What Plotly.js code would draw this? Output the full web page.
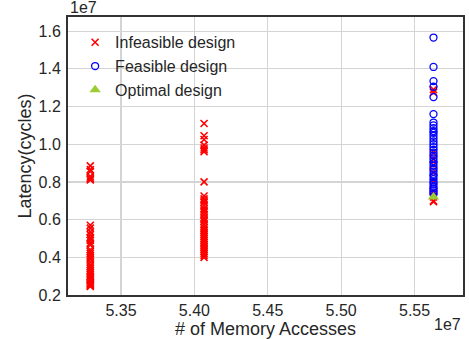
<!DOCTYPE html>
<html>
<head>
<meta charset="utf-8">
<script src="https://cdn.plot.ly/plotly-3.0.1.min.js"></script>
<style>html,body{margin:0;padding:0;background:#fff;}#chart{width:469px;height:339px;}</style>
</head>
<body>
<div id="chart"></div>
<script>
// values in units of 1e7
const xCols = [5.3291, 5.4066, 5.5629];

const infeasibleCol1 = [0.885, 0.865, 0.855, 0.83, 0.82, 0.815, 0.81,
  0.57, 0.555, 0.535, 0.52, 0.505, 0.50, 0.49, 0.475, 0.465, 0.44, 0.43, 0.42, 0.41, 0.40,
  0.39, 0.375, 0.36, 0.35, 0.34, 0.33, 0.32, 0.31, 0.30, 0.295, 0.285, 0.28, 0.27,
  0.265, 0.26, 0.255, 0.25, 0.245];
const infeasibleCol2 = [1.11, 1.045, 1.025, 0.995, 0.98, 0.97, 0.96, 0.80,
  0.725, 0.71, 0.70, 0.69, 0.675, 0.66, 0.65, 0.64, 0.625, 0.61, 0.60, 0.59, 0.575,
  0.56, 0.55, 0.54, 0.53, 0.52, 0.51, 0.50, 0.49, 0.48, 0.47, 0.46, 0.45, 0.44,
  0.43, 0.42, 0.41, 0.40];
const infeasibleCol3 = [1.29, 1.275, 0.955, 0.92, 0.89, 0.85, 0.80, 0.75, 0.72, 0.70, 0.695];

const feasibleCol3 = [1.566, 1.41, 1.335, 1.305, 1.25, 1.16, 1.115, 1.10, 1.085, 1.07,
  1.06, 1.045, 1.03, 1.015, 1.0, 0.985, 0.97, 0.955, 0.94, 0.925, 0.91, 0.90, 0.885,
  0.87, 0.855, 0.84, 0.83, 0.815, 0.80, 0.79, 0.775, 0.765, 0.755, 0.745, 0.735];

const optimalCol3 = [0.72];

const xTicks = [5.35, 5.40, 5.45, 5.50, 5.55];
const yTicks = [0.2, 0.4, 0.6, 0.8, 1.0, 1.2, 1.4, 1.6];

const infX = [], infY = [];
[infeasibleCol1, infeasibleCol2, infeasibleCol3].forEach((col, i) => {
  col.forEach(v => { infX.push(xCols[i]); infY.push(v); });
});
const feaX = feasibleCol3.map(() => xCols[2]);
const optX = optimalCol3.map(() => xCols[2]);

const font = "'Liberation Sans', Arial, sans-serif";
const textColor = '#262626';

const traces = [
  {x: infX, y: infY, name: 'Infeasible design', type: 'scatter', mode: 'markers',
   marker: {symbol: 'x-thin-open', size: 7, color: 'red', line: {color: 'red', width: 1.6}}},
  {x: feaX, y: feasibleCol3, name: 'Feasible design', type: 'scatter', mode: 'markers',
   marker: {symbol: 'circle-open', size: 7, color: 'blue', line: {color: 'blue', width: 1.3}}},
  {x: optX, y: optimalCol3, name: 'Optimal design', type: 'scatter', mode: 'markers',
   marker: {symbol: 'triangle-up', size: 10, color: '#9acd32'}}
];

const layout = {
  width: 469, height: 339,
  margin: {l: 68, r: 6, t: 17, b: 44, pad: 0},
  paper_bgcolor: '#fff', plot_bgcolor: '#fff',
  font: {family: font, size: 16, color: textColor},
  showlegend: true,
  legend: {x: 0.018, y: 0.97, xanchor: 'left', yanchor: 'top', bgcolor: 'rgba(0,0,0,0)',
           font: {family: font, size: 16, color: textColor}, itemwidth: 30, tracegroupgap: 0},
  xaxis: {range: [5.3139, 5.583], tickvals: xTicks, tickformat: '.2f',
          showgrid: true, gridcolor: '#d4d4d4', gridwidth: 1.2, zeroline: false,
          showline: true, mirror: true, linecolor: '#333', linewidth: 2,
          ticks: '', ticklabelstandoff: 0,
          title: {text: '# of Memory Accesses', font: {family: font, size: 18, color: textColor}, standoff: 4}},
  yaxis: {range: [0.2, 1.675], tickvals: yTicks, tickformat: '.1f',
          showgrid: true, gridcolor: '#d4d4d4', gridwidth: 1.2, zeroline: false,
          showline: true, mirror: true, linecolor: '#333', linewidth: 2,
          ticks: '', ticklabelstandoff: 2,
          title: {text: 'Latency(cycles)', font: {family: font, size: 18, color: textColor}, standoff: 2}},
  annotations: [
    {text: '1e7', xref: 'paper', yref: 'paper', x: 0, y: 1, xanchor: 'left', yanchor: 'bottom',
     showarrow: false, font: {family: font, size: 16, color: textColor}, yshift: -1},
    {text: '1e7', xref: 'paper', yref: 'paper', x: 1, y: 0, xanchor: 'right', yanchor: 'top',
     showarrow: false, font: {family: font, size: 16, color: textColor}, yshift: -19}
  ]
};

Plotly.newPlot('chart', traces, layout, {displayModeBar: false, staticPlot: true});
</script>
</body>
</html>
